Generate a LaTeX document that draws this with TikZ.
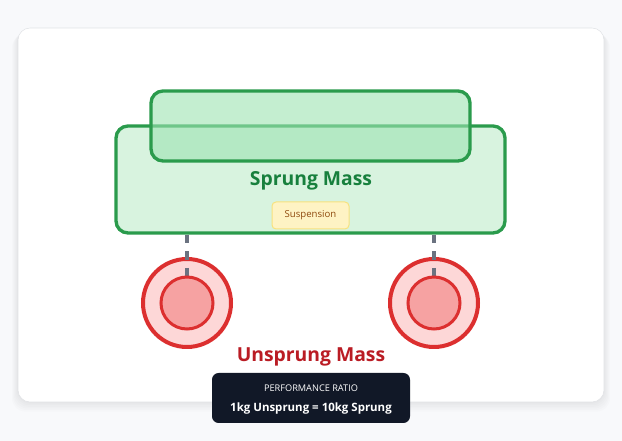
\documentclass[tikz,border=0pt]{standalone}
\usepackage{fontspec}
\setmainfont{Open Sans}
\definecolor{pagebg}{HTML}{F8F9FB}
\definecolor{cardln}{HTML}{E1E3E6}
\definecolor{grn}{HTML}{2A9B4C}
\definecolor{grntxt}{HTML}{17803D}
\definecolor{bodyfill}{HTML}{D8F3DF}
\definecolor{cabfill}{HTML}{9DE3B2}
\definecolor{rd}{HTML}{DC2F2F}
\definecolor{rdtxt}{HTML}{BA1C24}
\definecolor{tyre}{HTML}{FDD7D7}
\definecolor{hub}{HTML}{F6A2A2}
\definecolor{strut}{HTML}{6B7280}
\definecolor{ink}{HTML}{111827}
\definecolor{susfill}{HTML}{FEF3C4}
\definecolor{susln}{HTML}{F7E27E}
\definecolor{sustxt}{HTML}{8F4A0E}
\begin{document}
\begin{tikzpicture}[x=.75pt,y=-.75pt,
 massbox/.style={draw=grn,line width=2.5pt,rounded corners=9pt},
 wheelout/.style={circle,draw=rd,fill=tyre,line width=3pt,minimum size=66pt,inner sep=0pt},
 wheelin/.style={circle,draw=rd,fill=hub,line width=2.25pt,minimum size=39pt,inner sep=0pt},
 spring/.style={draw=strut,line width=3pt,dash pattern=on 6.5pt off 6pt}]
 \useasboundingbox[fill=pagebg] (0,0) rectangle (622,441);
 % card and its shadow
 \foreach \k in {1,...,6}
  \fill[black,opacity=.012,rounded corners=10pt] (18-\k,28+\k) rectangle (604+\k,402+1.6*\k);
 \draw[cardln,fill=white,rounded corners=9pt] (18,28) rectangle (604,402);
 % sprung mass
 \node[massbox,fill=bodyfill,minimum width=291.75pt,minimum height=80.25pt] (body) at (310.5,179.5) {};
 \node[massbox,fill=cabfill,fill opacity=.6,minimum width=239.25pt,minimum height=52.5pt] (cabin) at (310.5,126) {};
 \node[text=grntxt,font=\fontsize{14.5}{18}\selectfont\bfseries] (sprung) at (311,181) {Sprung Mass};
 \node[draw=susln,fill=susfill,line width=.75pt,rounded corners=3pt,minimum width=57.75pt,minimum height=20.25pt,
  text=sustxt,font=\fontsize{7.2}{9}\selectfont] (susp) at (310.5,215.5) {Suspension};
 % wheels
 \path
 (187,303) node[wheelout] (wl) {}
 ++(247,0) node[wheelout] (wr) {};
 \draw[spring] (body.south -| wl) -- (wl.center);
 \draw[spring] (body.south -| wr) -- (wr.center);
 \node[wheelin] (hl) at (wl) {};
 \node[wheelin] (hr) at (wr) {};
 \node[text=rdtxt,font=\fontsize{14.5}{18}\selectfont\bfseries] (unsprung) at (311,357) {Unsprung Mass};
 % ratio box
 \node[fill=ink,rounded corners=5pt,minimum width=148.5pt,minimum height=37.5pt] (ratio) at (311,398) {};
 \node[text=white,font=\fontsize{6.9}{9}\selectfont] (rtitle) at (311,388.5) {PERFORMANCE RATIO};
 \node[text=white,font=\fontsize{8.6}{11}\selectfont\bfseries] (rvalue) at (311,408.5) {1kg Unsprung = 10kg Sprung};
\end{tikzpicture}
\end{document}
